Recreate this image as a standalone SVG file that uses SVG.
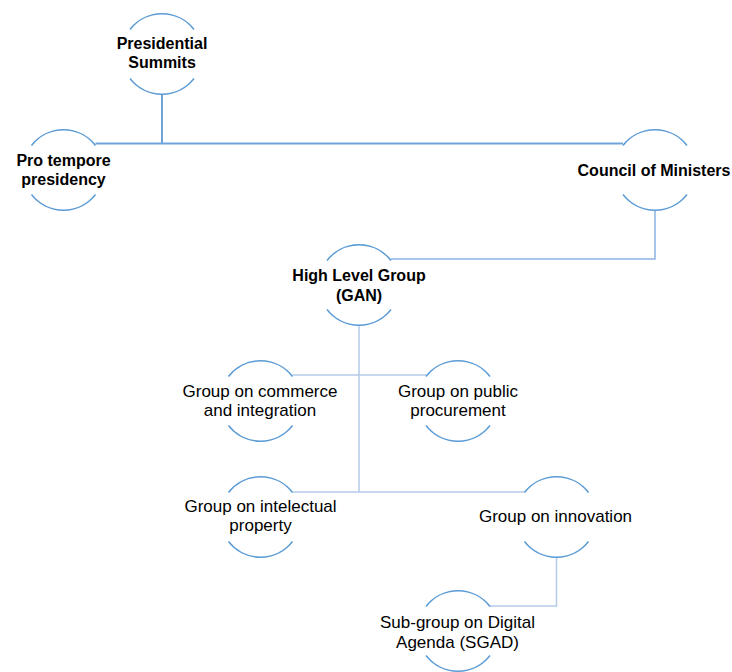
<svg xmlns="http://www.w3.org/2000/svg" width="732" height="672" viewBox="0 0 732 672">
<defs>
<style>
.arc{fill:none;stroke:#5B9BD5;stroke-width:1.5}
.c1{fill:none;stroke:#6FA3DA;stroke-width:2}
.c2{fill:none;stroke:#8DB3E2;stroke-width:1.5}
.c3{fill:none;stroke:#B4CBEA;stroke-width:1.5}
.b{font-family:"Liberation Sans",Arial,sans-serif;font-size:16px;font-weight:bold;fill:#000;text-anchor:middle}
.r{font-family:"Liberation Sans",Arial,sans-serif;font-size:17px;fill:#000;text-anchor:middle}
</style>
</defs>
<rect width="732" height="672" fill="#fff"/>
<g id="connectors">
<path class="c1" d="M162,94.5 V143.5 M95.5,143.5 H623"/>
<path class="c2" d="M655,210.5 V259 H391"/>
<path class="c3" d="M359,325.5 V492 M292.5,375 H426.5 M292.5,492 H524.5"/>
<path class="c3" d="M556.5,557.5 V606 H490"/>
</g>
<g id="presidential-summits">
<path class="arc" d="M130,29.5 A40.5,40.5 0 0 1 194,29.5 M130,78.5 A40.5,40.5 0 0 0 194,78.5"/>
<text class="b" x="162" y="49">Presidential</text>
<text class="b" x="162" y="68">Summits</text>
</g>
<g id="pro-tempore-presidency">
<path class="arc" d="M31.5,145.5 A40.5,40.5 0 0 1 95.5,145.5 M31.5,194.5 A40.5,40.5 0 0 0 95.5,194.5"/>
<text class="b" x="63.5" y="165.5">Pro tempore</text>
<text class="b" x="63.5" y="185">presidency</text>
</g>
<g id="council-of-ministers">
<path class="arc" d="M623,145.5 A40.5,40.5 0 0 1 687,145.5 M623,194.5 A40.5,40.5 0 0 0 687,194.5"/>
<text class="b" x="654" y="175.5">Council of Ministers</text>
</g>
<g id="high-level-group">
<path class="arc" d="M327,260.5 A40.5,40.5 0 0 1 391,260.5 M327,309.5 A40.5,40.5 0 0 0 391,309.5"/>
<text class="b" x="359" y="281">High Level Group</text>
<text class="b" x="359" y="300.5">(GAN)</text>
</g>
<g id="group-commerce">
<path class="arc" d="M228.5,376.5 A40.5,40.5 0 0 1 292.5,376.5 M228.5,425.5 A40.5,40.5 0 0 0 292.5,425.5"/>
<text class="r" x="260" y="396.7">Group on commerce</text>
<text class="r" x="260" y="416">and integration</text>
</g>
<g id="group-public-procurement">
<path class="arc" d="M426,376.5 A40.5,40.5 0 0 1 490,376.5 M426,425.5 A40.5,40.5 0 0 0 490,425.5"/>
<text class="r" x="458" y="396.7">Group on public</text>
<text class="r" x="458" y="416">procurement</text>
</g>
<g id="group-intellectual-property">
<path class="arc" d="M228.5,492.5 A40.5,40.5 0 0 1 292.5,492.5 M228.5,541.5 A40.5,40.5 0 0 0 292.5,541.5"/>
<text class="r" x="260.5" y="511.7">Group on intelectual</text>
<text class="r" x="260.5" y="531">property</text>
</g>
<g id="group-innovation">
<path class="arc" d="M524.5,492.5 A40.5,40.5 0 0 1 588.5,492.5 M524.5,541.5 A40.5,40.5 0 0 0 588.5,541.5"/>
<text class="r" x="555.5" y="521.7">Group on innovation</text>
</g>
<g id="subgroup-digital-agenda">
<path class="arc" d="M426,606.5 A40.5,40.5 0 0 1 490,606.5 M426,655.5 A40.5,40.5 0 0 0 490,655.5"/>
<text class="r" x="457.5" y="628">Sub-group on Digital</text>
<text class="r" x="457.5" y="648">Agenda (SGAD)</text>
</g>
</svg>
